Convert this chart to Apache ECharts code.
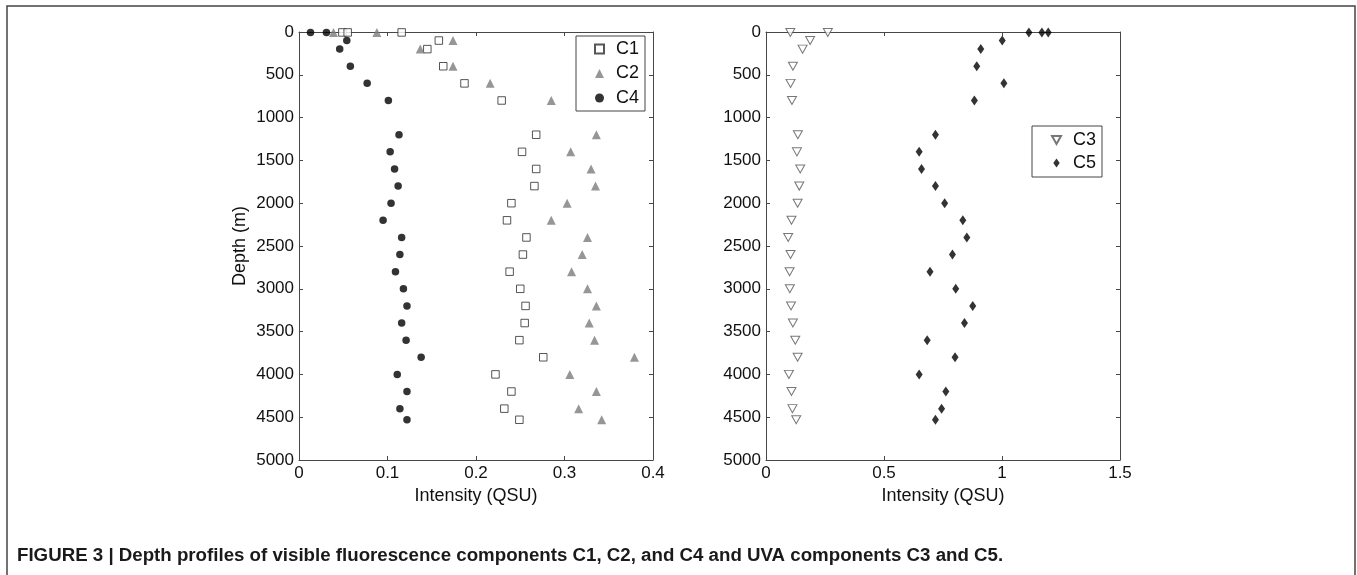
<!DOCTYPE html>
<html>
<head>
<meta charset="utf-8">
<script src="https://cdn.jsdelivr.net/npm/echarts@6/dist/echarts.min.js"></script>
<style>
html,body{margin:0;padding:0;background:#fff;}
#chart{width:1357px;height:575px;}
</style>
</head>
<body>
<div id="chart"></div>
<script>
// ---- data ----
const surfaceDepth = 5;
const profileDepths = [100,200,400,600,800,1200,1400,1600,1800,2000,2200,2400,2600,2800,3000,3200,3400,3600,3800,4000,4200,4400,4530];
const c1Surface = [0.049,0.055,0.116];
const c1Values = [0.158,0.145,0.163,0.187,0.229,0.268,0.252,0.268,0.266,0.240,0.235,0.257,0.253,0.238,0.250,0.256,0.255,0.249,0.276,0.222,0.240,0.232,0.249];
const c2Surface = [0.039,0.088];
const c2Values = [0.174,0.137,0.174,0.216,0.285,0.336,0.307,0.330,0.335,0.303,0.285,0.326,0.320,0.308,0.326,0.336,0.328,0.334,0.379,0.306,0.336,0.316,0.342];
const c4Surface = [0.013,0.031];
const c4Values = [0.054,0.046,0.058,0.077,0.101,0.113,0.103,0.108,0.112,0.104,0.095,0.116,0.114,0.109,0.118,0.122,0.116,0.121,0.138,0.111,0.122,0.114,0.122];
const c3Surface = [0.103,0.262];
const c3Values = [0.187,0.155,0.114,0.104,0.110,0.135,0.131,0.145,0.141,0.134,0.108,0.094,0.104,0.100,0.101,0.106,0.114,0.124,0.134,0.097,0.108,0.112,0.128];
const c5Surface = [1.114,1.169,1.196];
const c5Values = [1.001,0.910,0.893,1.008,0.883,0.718,0.649,0.659,0.718,0.757,0.834,0.851,0.790,0.695,0.804,0.876,0.841,0.683,0.801,0.649,0.762,0.744,0.718];
const depthTicks = {min:0, max:5000, interval:500};
const leftX = {min:0, max:0.4, interval:0.1};
const rightX = {min:0, max:1.5, interval:0.5};
const xTitle = 'Intensity (QSU)';
const yTitle = 'Depth (m)';
const caption = 'FIGURE 3 | Depth profiles of visible fluorescence components C1, C2, and C4 and UVA components C3 and C5.';

function pts(surface, values){
  const out = surface.map(v => [v, surfaceDepth]);
  values.forEach((v,i) => out.push([v, profileDepths[i]]));
  return out;
}

const FONT = '"Liberation Sans", Arial, sans-serif';
const AX = '#474747';
const chart = echarts.init(document.getElementById('chart'), null, {renderer:'canvas'});

function xAx(grid, r, bottom){
  return {
    type:'value', gridIndex:grid, position: bottom ? 'bottom':'top',
    min:r.min, max:r.max, interval:r.interval,
    name: bottom ? xTitle : '', nameLocation:'middle', nameGap:24,
    nameTextStyle:{fontFamily:FONT, fontSize:18, color:'#111'},
    axisLine:{show:true, onZero:false, lineStyle:{color:AX, width:1}},
    axisTick:{show:true, inside:true, length:4, lineStyle:{color:AX}},
    axisLabel:{show:bottom, fontFamily:FONT, fontSize:17, color:'#111', margin:5,
               formatter: v => String(+v.toFixed(3))},
    splitLine:{show:false}
  };
}
function yAx(grid, left, withName){
  return {
    type:'value', gridIndex:grid, position: left ? 'left':'right', inverse:true,
    min:depthTicks.min, max:depthTicks.max, interval:depthTicks.interval,
    name: withName ? yTitle : '', nameLocation:'middle', nameGap:50,
    nameTextStyle:{fontFamily:FONT, fontSize:18, color:'#111'},
    axisLine:{show:true, onZero:false, lineStyle:{color:AX, width:1}},
    axisTick:{show:true, inside:true, length:4, lineStyle:{color:AX}},
    axisLabel:{show:left, fontFamily:FONT, fontSize:17, color:'#111', margin:5,
               formatter: v => String(v)},
    splitLine:{show:false}
  };
}

const invTri = 'path://M0,0 L10,0 L5,9 Z';
const diamond = 'path://M5,0 L10,7 L5,14 L0,7 Z';

const option = {
  backgroundColor:'#fff',
  animation:false,
  title:{
    text: caption, left:17, top:546, padding:0,
    textStyle:{fontFamily:FONT, fontWeight:'bold', fontSize:18.7, color:'#1a1a1a'}
  },
  graphic:[{
    type:'rect', shape:{x:7, y:6, width:1348, height:700},
    style:{fill:'none', stroke:'#444', lineWidth:1.5}, silent:true
  }],
  grid:[
    {left:299, top:32, width:354, height:428},
    {left:766, top:32, width:354, height:428}
  ],
  xAxis:[xAx(0,leftX,true), xAx(0,leftX,false), xAx(1,rightX,true), xAx(1,rightX,false)],
  yAxis:[yAx(0,true,true), yAx(0,false,false), yAx(1,true,false), yAx(1,false,false)],
  legend:[
    {
      data:['C1','C2','C4'], orient:'vertical', left:576, top:36,
      padding:[4,6,4,18], itemWidth:9, itemHeight:9, itemGap:6.5,
      borderColor:'#444', borderWidth:1, backgroundColor:'#fff',
      textStyle:{fontFamily:FONT, fontSize:18, color:'#111', lineHeight:18, padding:[0,0,0,7]}
    },
    {
      data:['C3','C5'], orient:'vertical', left:1032, top:126,
      padding:[5,6,5,19], itemWidth:9, itemHeight:9, itemGap:5,
      borderColor:'#444', borderWidth:1, backgroundColor:'#fff',
      textStyle:{fontFamily:FONT, fontSize:18, color:'#111', lineHeight:18, padding:[0,0,0,7]}
    }
  ],
  series:[
    {name:'C1', type:'scatter', xAxisIndex:0, yAxisIndex:0, symbol:'rect', symbolSize:7.5,
     itemStyle:{color:'#fff', borderColor:'#2b2b2b', borderWidth:1}, data:pts(c1Surface,c1Values)},
    {name:'C2', type:'scatter', xAxisIndex:0, yAxisIndex:0, symbol:'triangle', symbolSize:9,
     itemStyle:{color:'#7c7c7c', borderColor:'#7c7c7c', borderWidth:0}, data:pts(c2Surface,c2Values)},
    {name:'C4', type:'scatter', xAxisIndex:0, yAxisIndex:0, symbol:'circle', symbolSize:7.5,
     itemStyle:{color:'#000'}, data:pts(c4Surface,c4Values)},
    {name:'C3', type:'scatter', xAxisIndex:2, yAxisIndex:2, symbol:invTri, symbolSize:[9,8],
     itemStyle:{color:'#fff', borderColor:'#555', borderWidth:1}, data:pts(c3Surface,c3Values)},
    {name:'C5', type:'scatter', xAxisIndex:2, yAxisIndex:2, symbol:diamond, symbolSize:[7,10],
     itemStyle:{color:'#000'}, data:pts(c5Surface,c5Values)}
  ]
};
chart.setOption(option);
</script>
</body>
</html>
